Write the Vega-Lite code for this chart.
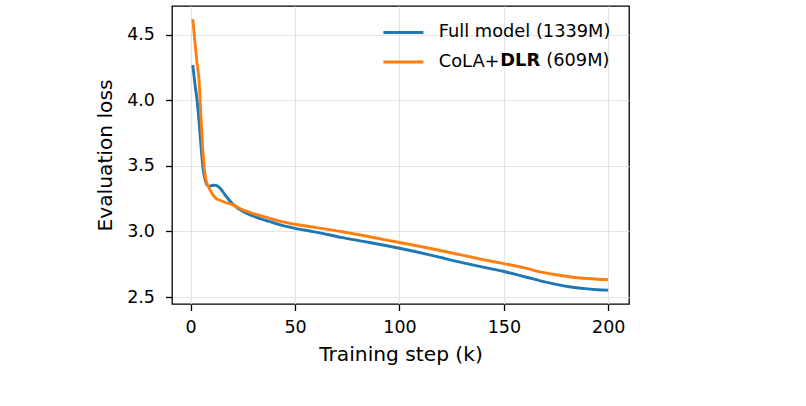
{
  "$schema": "https://vega.github.io/schema/vega-lite/v6.json",
  "width": 457,
  "height": 298,
  "autosize": "none",
  "padding": {"left": 172, "top": 6, "right": 177, "bottom": 102},
  "background": "white",
  "config": {
    "font": "DejaVu Sans",
    "view": {"stroke": "black", "strokeWidth": 1.3},
    "axis": {
      "domain": false,
      "grid": true,
      "gridColor": "#e3e3e3",
      "gridWidth": 1,
      "ticks": true,
      "tickColor": "black",
      "tickWidth": 1.3,
      "tickSize": 6.5,
      "labelFont": "DejaVu Sans",
      "labelFontSize": 17.5,
      "labelColor": "black",
      "titleFont": "DejaVu Sans",
      "titleFontSize": 20.2,
      "titleFontWeight": "normal",
      "titleColor": "black"
    },
    "legend": {
      "labelFont": "DejaVu Sans",
      "labelFontSize": 17.8,
      "labelColor": "black",
      "labelLimit": 400,
      "padding": 0,
      "title": null
    }
  },
  "data": {
    "values": [
      {"model": "Full model (1339M)", "step": 1, "loss": 4.27},
      {"model": "Full model (1339M)", "step": 2, "loss": 4.13},
      {"model": "Full model (1339M)", "step": 3, "loss": 4.01},
      {"model": "Full model (1339M)", "step": 4, "loss": 3.84},
      {"model": "Full model (1339M)", "step": 5, "loss": 3.64},
      {"model": "Full model (1339M)", "step": 6, "loss": 3.47},
      {"model": "Full model (1339M)", "step": 7, "loss": 3.39},
      {"model": "Full model (1339M)", "step": 8, "loss": 3.352},
      {"model": "Full model (1339M)", "step": 9, "loss": 3.346},
      {"model": "Full model (1339M)", "step": 10, "loss": 3.35},
      {"model": "Full model (1339M)", "step": 11, "loss": 3.353},
      {"model": "Full model (1339M)", "step": 12, "loss": 3.352},
      {"model": "Full model (1339M)", "step": 13, "loss": 3.345},
      {"model": "Full model (1339M)", "step": 14, "loss": 3.332},
      {"model": "Full model (1339M)", "step": 15, "loss": 3.312},
      {"model": "Full model (1339M)", "step": 16, "loss": 3.29},
      {"model": "Full model (1339M)", "step": 17, "loss": 3.268},
      {"model": "Full model (1339M)", "step": 18, "loss": 3.248},
      {"model": "Full model (1339M)", "step": 20, "loss": 3.212},
      {"model": "Full model (1339M)", "step": 22, "loss": 3.185},
      {"model": "Full model (1339M)", "step": 24, "loss": 3.163},
      {"model": "Full model (1339M)", "step": 27, "loss": 3.138},
      {"model": "Full model (1339M)", "step": 30, "loss": 3.117},
      {"model": "Full model (1339M)", "step": 34, "loss": 3.095},
      {"model": "Full model (1339M)", "step": 38, "loss": 3.075},
      {"model": "Full model (1339M)", "step": 43, "loss": 3.05},
      {"model": "Full model (1339M)", "step": 50, "loss": 3.024},
      {"model": "Full model (1339M)", "step": 60, "loss": 2.995},
      {"model": "Full model (1339M)", "step": 72, "loss": 2.955},
      {"model": "Full model (1339M)", "step": 85, "loss": 2.918},
      {"model": "Full model (1339M)", "step": 100, "loss": 2.872},
      {"model": "Full model (1339M)", "step": 115, "loss": 2.82},
      {"model": "Full model (1339M)", "step": 130, "loss": 2.763},
      {"model": "Full model (1339M)", "step": 140, "loss": 2.728},
      {"model": "Full model (1339M)", "step": 150, "loss": 2.695},
      {"model": "Full model (1339M)", "step": 160, "loss": 2.655},
      {"model": "Full model (1339M)", "step": 168, "loss": 2.622},
      {"model": "Full model (1339M)", "step": 175, "loss": 2.597},
      {"model": "Full model (1339M)", "step": 182, "loss": 2.577},
      {"model": "Full model (1339M)", "step": 190, "loss": 2.562},
      {"model": "Full model (1339M)", "step": 195, "loss": 2.556},
      {"model": "Full model (1339M)", "step": 200, "loss": 2.553},
      {"model": "CoLA+DLR (609M)", "step": 1, "loss": 4.62},
      {"model": "CoLA+DLR (609M)", "step": 2, "loss": 4.45},
      {"model": "CoLA+DLR (609M)", "step": 3, "loss": 4.29},
      {"model": "CoLA+DLR (609M)", "step": 4, "loss": 4.155},
      {"model": "CoLA+DLR (609M)", "step": 5, "loss": 3.85},
      {"model": "CoLA+DLR (609M)", "step": 6, "loss": 3.58},
      {"model": "CoLA+DLR (609M)", "step": 7, "loss": 3.42},
      {"model": "CoLA+DLR (609M)", "step": 8, "loss": 3.36},
      {"model": "CoLA+DLR (609M)", "step": 9, "loss": 3.325},
      {"model": "CoLA+DLR (609M)", "step": 10, "loss": 3.295},
      {"model": "CoLA+DLR (609M)", "step": 11, "loss": 3.272},
      {"model": "CoLA+DLR (609M)", "step": 12, "loss": 3.255},
      {"model": "CoLA+DLR (609M)", "step": 14, "loss": 3.238},
      {"model": "CoLA+DLR (609M)", "step": 16, "loss": 3.225},
      {"model": "CoLA+DLR (609M)", "step": 18, "loss": 3.214},
      {"model": "CoLA+DLR (609M)", "step": 20, "loss": 3.205},
      {"model": "CoLA+DLR (609M)", "step": 22, "loss": 3.19},
      {"model": "CoLA+DLR (609M)", "step": 24, "loss": 3.172},
      {"model": "CoLA+DLR (609M)", "step": 27, "loss": 3.153},
      {"model": "CoLA+DLR (609M)", "step": 30, "loss": 3.136},
      {"model": "CoLA+DLR (609M)", "step": 34, "loss": 3.118},
      {"model": "CoLA+DLR (609M)", "step": 38, "loss": 3.1},
      {"model": "CoLA+DLR (609M)", "step": 43, "loss": 3.077},
      {"model": "CoLA+DLR (609M)", "step": 50, "loss": 3.055},
      {"model": "CoLA+DLR (609M)", "step": 60, "loss": 3.03},
      {"model": "CoLA+DLR (609M)", "step": 72, "loss": 3.0},
      {"model": "CoLA+DLR (609M)", "step": 85, "loss": 2.962},
      {"model": "CoLA+DLR (609M)", "step": 100, "loss": 2.916},
      {"model": "CoLA+DLR (609M)", "step": 115, "loss": 2.87},
      {"model": "CoLA+DLR (609M)", "step": 130, "loss": 2.82},
      {"model": "CoLA+DLR (609M)", "step": 140, "loss": 2.786},
      {"model": "CoLA+DLR (609M)", "step": 150, "loss": 2.755},
      {"model": "CoLA+DLR (609M)", "step": 160, "loss": 2.722},
      {"model": "CoLA+DLR (609M)", "step": 168, "loss": 2.69},
      {"model": "CoLA+DLR (609M)", "step": 175, "loss": 2.67},
      {"model": "CoLA+DLR (609M)", "step": 182, "loss": 2.653},
      {"model": "CoLA+DLR (609M)", "step": 190, "loss": 2.641},
      {"model": "CoLA+DLR (609M)", "step": 195, "loss": 2.636},
      {"model": "CoLA+DLR (609M)", "step": 200, "loss": 2.633}
    ]
  },
  "encoding": {
    "x": {
      "field": "step",
      "type": "quantitative",
      "title": "Training step (k)",
      "scale": {"domain": [-8.95, 209.95], "nice": false, "zero": false},
      "axis": {"values": [0, 50, 100, 150, 200], "labelPadding": 8, "titlePadding": 8, "labelFlush": false}
    },
    "y": {
      "field": "loss",
      "type": "quantitative",
      "title": "Evaluation loss",
      "scale": {"domain": [2.447, 4.72], "nice": false, "zero": false},
      "axis": {"values": [2.5, 3.0, 3.5, 4.0, 4.5], "format": ".1f", "labelPadding": 11, "titlePadding": 11, "labelFlush": false}
    }
  },
  "layer": [
    {
      "mark": {"type": "line", "strokeWidth": 2.9, "interpolate": "monotone"},
      "encoding": {
        "color": {
          "field": "model",
          "type": "nominal",
          "sort": ["Full model (1339M)", "CoLA+DLR (609M)"],
          "scale": {"domain": ["Full model (1339M)", "CoLA+DLR (609M)"], "range": ["#1f77b4", "#ff7f0e"]},
          "legend": {
            "orient": "none",
            "legendX": 222.5,
            "legendY": 17.5,
            "symbolType": "M-4,0H4",
            "symbolSize": 100,
            "symbolStrokeWidth": 3,
            "labelOffset": 26.5,
            "rowPadding": 10.5,
            "labelExpr": "datum.label == 'CoLA+DLR (609M)' ? 'CoLA+' : datum.label"
          }
        }
      }
    },
    {
      "mark": {"type": "point", "opacity": 0},
      "encoding": {
        "shape": {
          "datum": "DLR",
          "type": "nominal",
          "legend": {
            "orient": "none",
            "legendX": 310.5,
            "legendY": 45.8,
            "symbolSize": 0,
            "symbolStrokeWidth": 0,
            "symbolOpacity": 0,
            "labelOffset": 0,
            "labelFontWeight": "bold"
          }
        }
      }
    },
    {
      "mark": {"type": "line", "opacity": 0, "interpolate": "monotone"},
      "encoding": {
        "detail": {"field": "model"},
        "strokeDash": {
          "datum": "(609M)",
          "type": "nominal",
          "legend": {
            "orient": "none",
            "legendX": 356.5,
            "legendY": 45.8,
            "symbolSize": 0,
            "symbolStrokeWidth": 0,
            "symbolOpacity": 0,
            "labelOffset": 0
          }
        }
      }
    }
  ]
}
